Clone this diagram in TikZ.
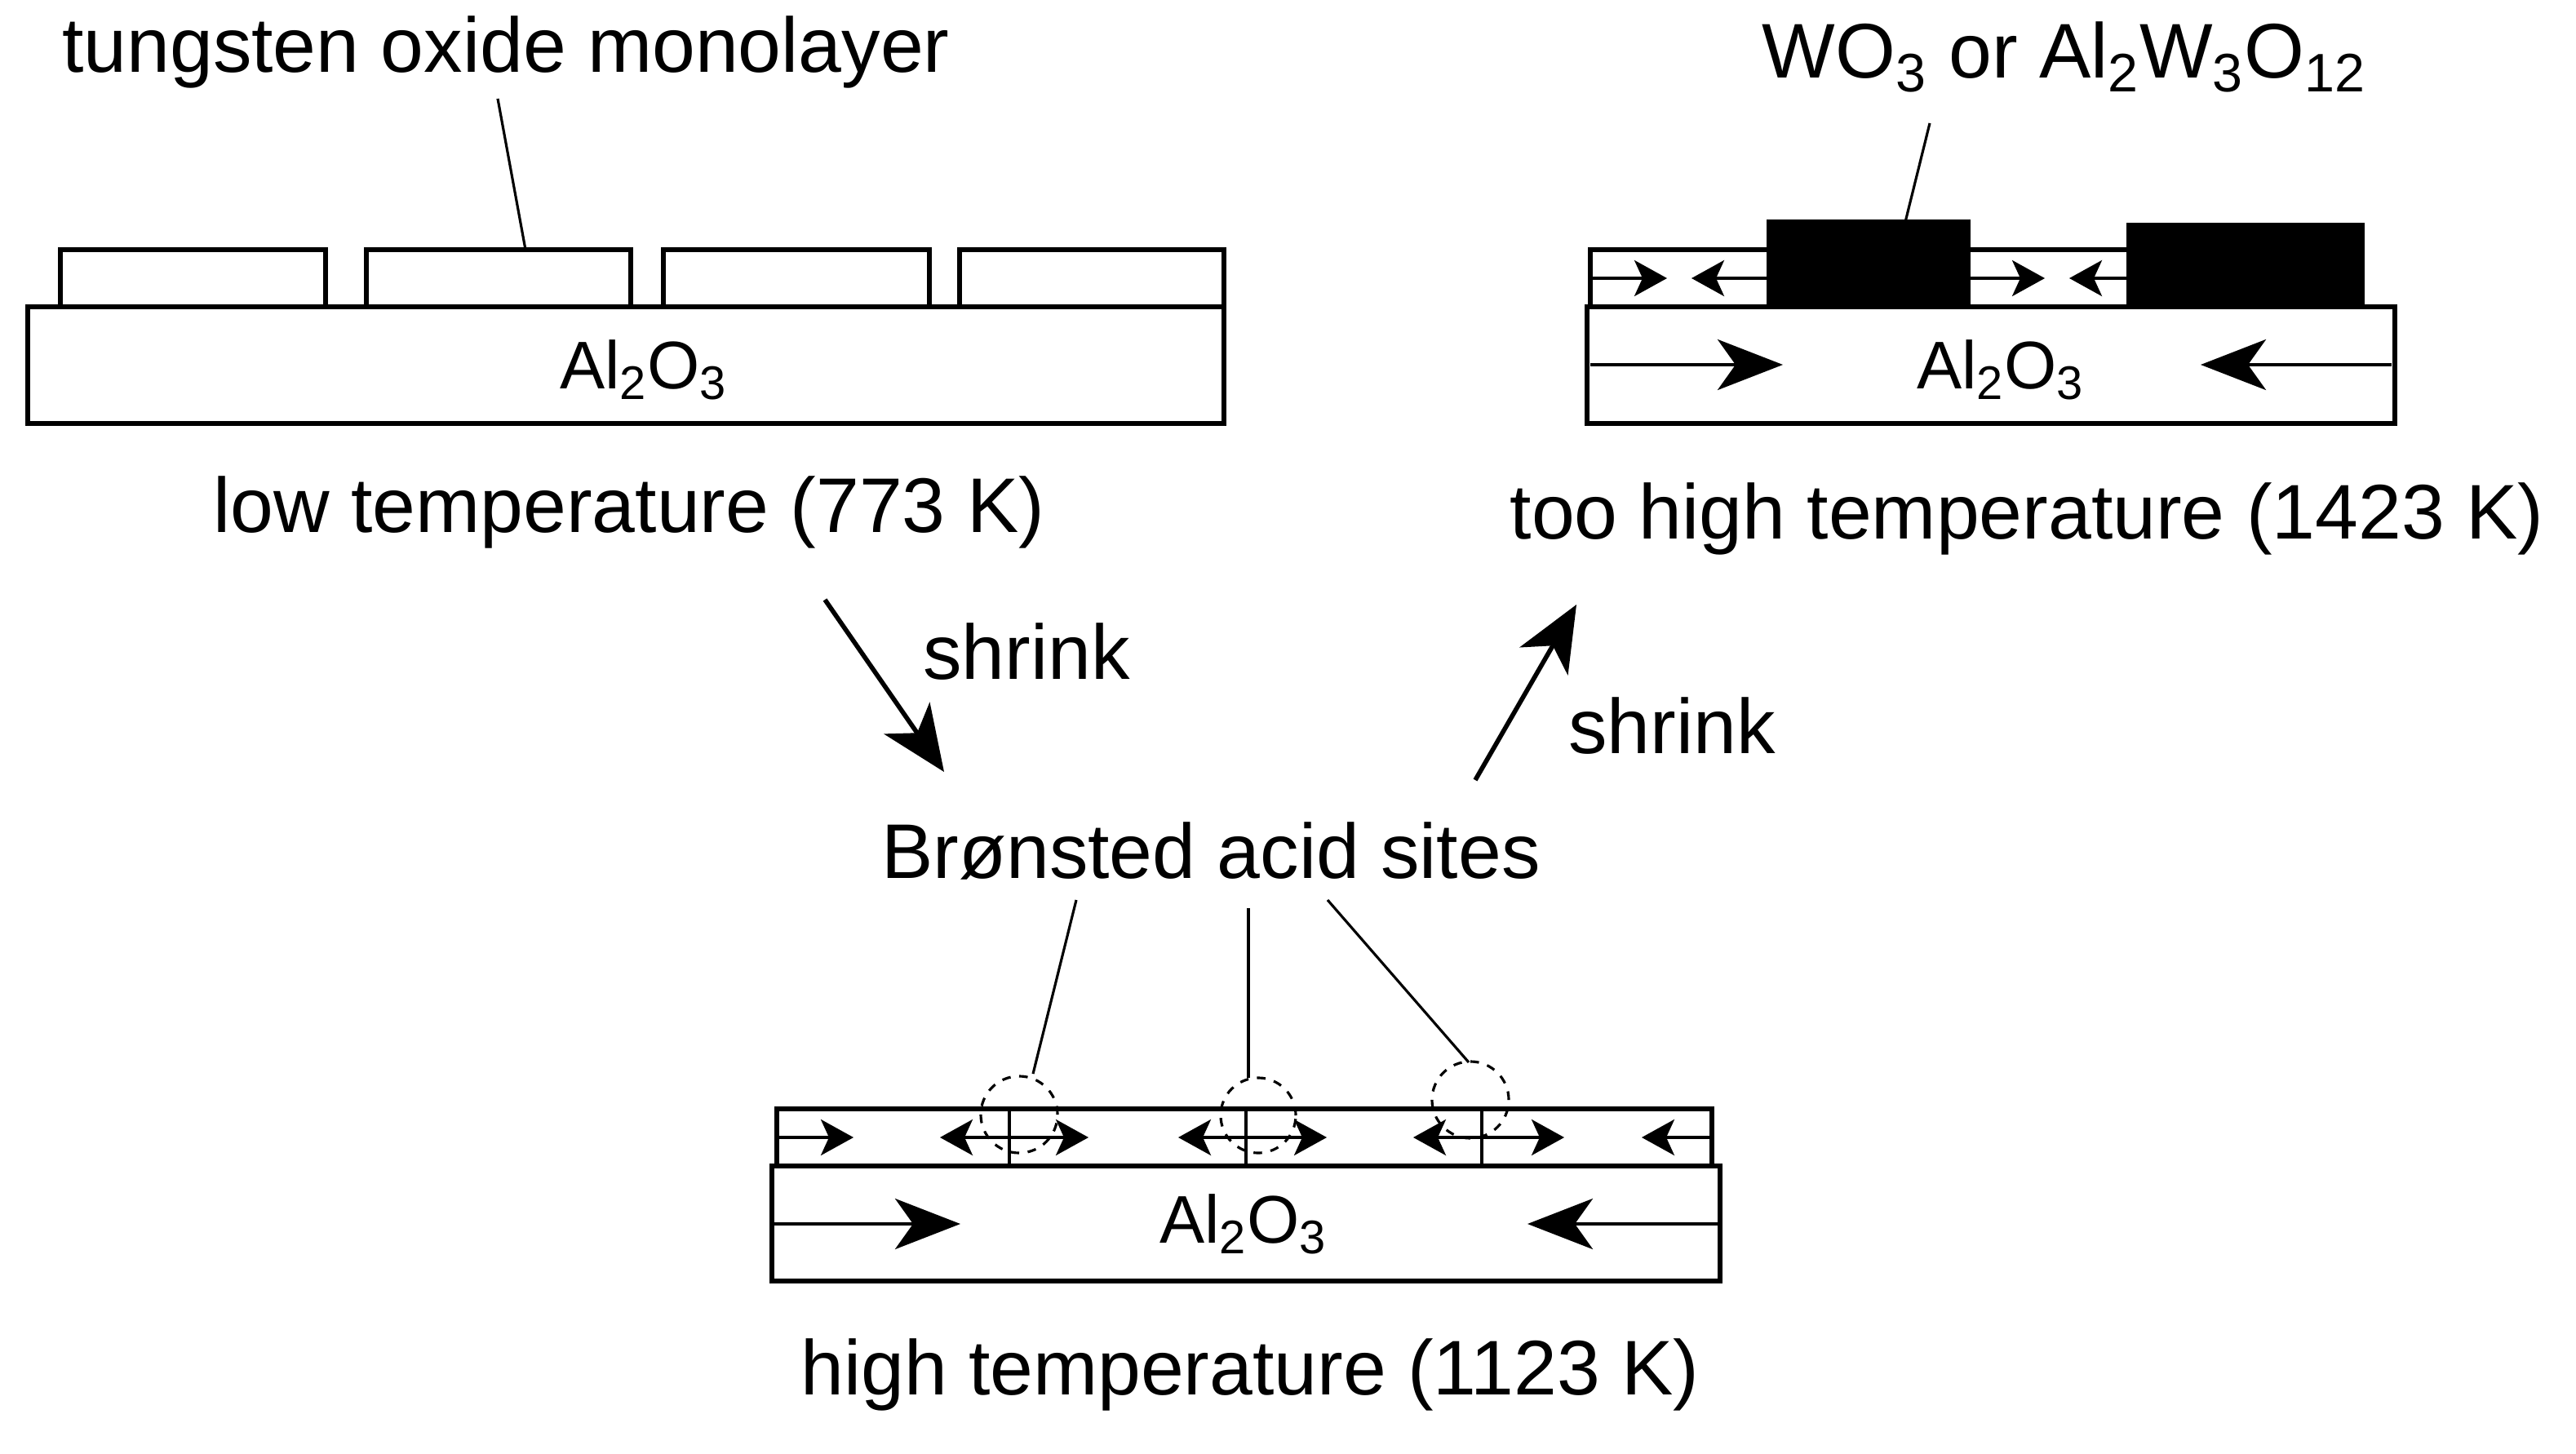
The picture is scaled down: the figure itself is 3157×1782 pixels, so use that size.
\documentclass[tikz,border=0pt]{standalone}
\usepackage{fontspec}
\usepackage{tikz}
\usetikzlibrary{arrows.meta}
\setmainfont{Liberation Sans}
\definecolor{SlabInk}{HTML}{000000}

\begin{document}
\begin{tikzpicture}[
    x=0.01cm, y=-0.01cm,
    label/.style={font=\fontsize{27}{32}\selectfont, inner sep=0pt},
    formula/.style={font=\fontsize{23.5}{28}\selectfont, inner sep=0pt},
    slab/.style={draw=SlabInk, fill=white, line width=1.6pt},
    film/.style={draw=SlabInk, fill=white, line width=1.7pt},
    crystal/.style={draw=SlabInk, fill=SlabInk, line width=1.6pt},
    bigarrow/.style={-{Stealth[length=0.8cm, width=0.62cm, inset=0.22cm]}, line width=1.2pt},
    tinyarrow/.style={-{Stealth[length=0.4cm, width=0.44cm, inset=0.1cm]}, line width=1pt},
    steparrow/.style={-{Stealth[length=0.8cm, width=0.68cm, inset=0.22cm]}, line width=1.6pt},
    leader/.style={line width=0.9pt},
    site/.style={dashed, line width=0.9pt}
  ]
    \useasboundingbox (0,0) rectangle (3157,1782);

    \draw[slab] (34,376) rectangle (1500,519);
    \draw[film] (74,306) rectangle (399,376);
    \draw[film] (449,306) rectangle (773,376);
    \draw[film] (813,306) rectangle (1139,376);
    \draw[film] (1176,306) rectangle (1500,376);
    \node[formula] (subA) at (789,453) {Al\textsubscript{2}O\textsubscript{3}};
    \node[label] (mono) at (620,64) {tungsten oxide monolayer};
    \coordinate (monoend) at (644,306);
    \draw[leader] (mono.south) ++(-10,12) -- (monoend);
    \node[label] (lowT) at (771,628) {low temperature (773 K)};

    \draw[slab] (1945,376) rectangle (2935,519);
    \draw[film] (1949,306) rectangle (2895,376);
    \draw[crystal] (2168,272) rectangle (2412,376);
    \draw[crystal] (2609,276) rectangle (2895,376);
    \draw[tinyarrow] (1949,341) -- (2043,341);
    \draw[tinyarrow] (2168,341) -- (2073,341);
    \draw[tinyarrow] (2412,341) -- (2506,341);
    \draw[tinyarrow] (2609,341) -- (2536,341);
    \draw[bigarrow] (1949,447) -- (2185,447);
    \draw[bigarrow] (2931,447) -- (2697,447);
    \node[formula] (subB) at (2452,453) {Al\textsubscript{2}O\textsubscript{3}};
    \node[label] (oxide) at (2530,70) {WO\textsubscript{3} or Al\textsubscript{2}W\textsubscript{3}O\textsubscript{12}};
    \coordinate (oxideend) at (2335,272);
    \draw[leader] (2365,151) -- (oxideend);
    \node[label] (tooT) at (2484,636) {too high temperature (1423 K)};

    \draw[slab] (946,1429) rectangle (2108,1570);
    \draw[film] (952,1359) rectangle (2098,1429);
    \draw[leader] (1237,1359) -- (1237,1429);
    \draw[leader] (1527,1359) -- (1527,1429);
    \draw[leader] (1816,1359) -- (1816,1429);
    \draw[tinyarrow] (952,1394) -- (1046,1394);
    \draw[tinyarrow] (1237,1394) -- (1152,1394);
    \draw[tinyarrow] (1237,1394) -- (1334,1394);
    \draw[tinyarrow] (1527,1394) -- (1444,1394);
    \draw[tinyarrow] (1527,1394) -- (1626,1394);
    \draw[tinyarrow] (1816,1394) -- (1732,1394);
    \draw[tinyarrow] (1816,1394) -- (1917,1394);
    \draw[tinyarrow] (2098,1394) -- (2012,1394);
    \draw[bigarrow] (946,1500) -- (1177,1500);
    \draw[bigarrow] (2108,1500) -- (1872,1500);
    \node[formula] (subC) at (1524,1500) {Al\textsubscript{2}O\textsubscript{3}};
    \draw[site] (1249,1366) circle[radius=0.47cm];
    \draw[site] (1542,1367) circle[radius=0.46cm];
    \draw[site] (1802,1348) circle[radius=0.47cm];
    \node[label] (acid) at (1484,1043) {Brønsted acid sites};
    \coordinate (siteA) at (1266,1316);
    \coordinate (siteB) at (1530,1321);
    \coordinate (siteC) at (1800,1302);
    \draw[leader] (1319,1103) -- (siteA);
    \draw[leader] (1530,1113) -- (siteB);
    \draw[leader] (1627,1103) -- (siteC);
    \node[label] (highT) at (1532,1685) {high temperature (1123 K)};

    \coordinate (dropstart) at (1011,735);
    \coordinate (dropend) at (1157,946);
    \coordinate (risestart) at (1808,956);
    \coordinate (riseend) at (1932,741);
    \draw[steparrow] (dropstart) -- (dropend);
    \draw[steparrow] (risestart) -- (riseend);
    \node[label] (shrinkA) at (1258,799) {shrink};
    \node[label] (shrinkB) at (2049,890) {shrink};
  \end{tikzpicture}
\end{document}
